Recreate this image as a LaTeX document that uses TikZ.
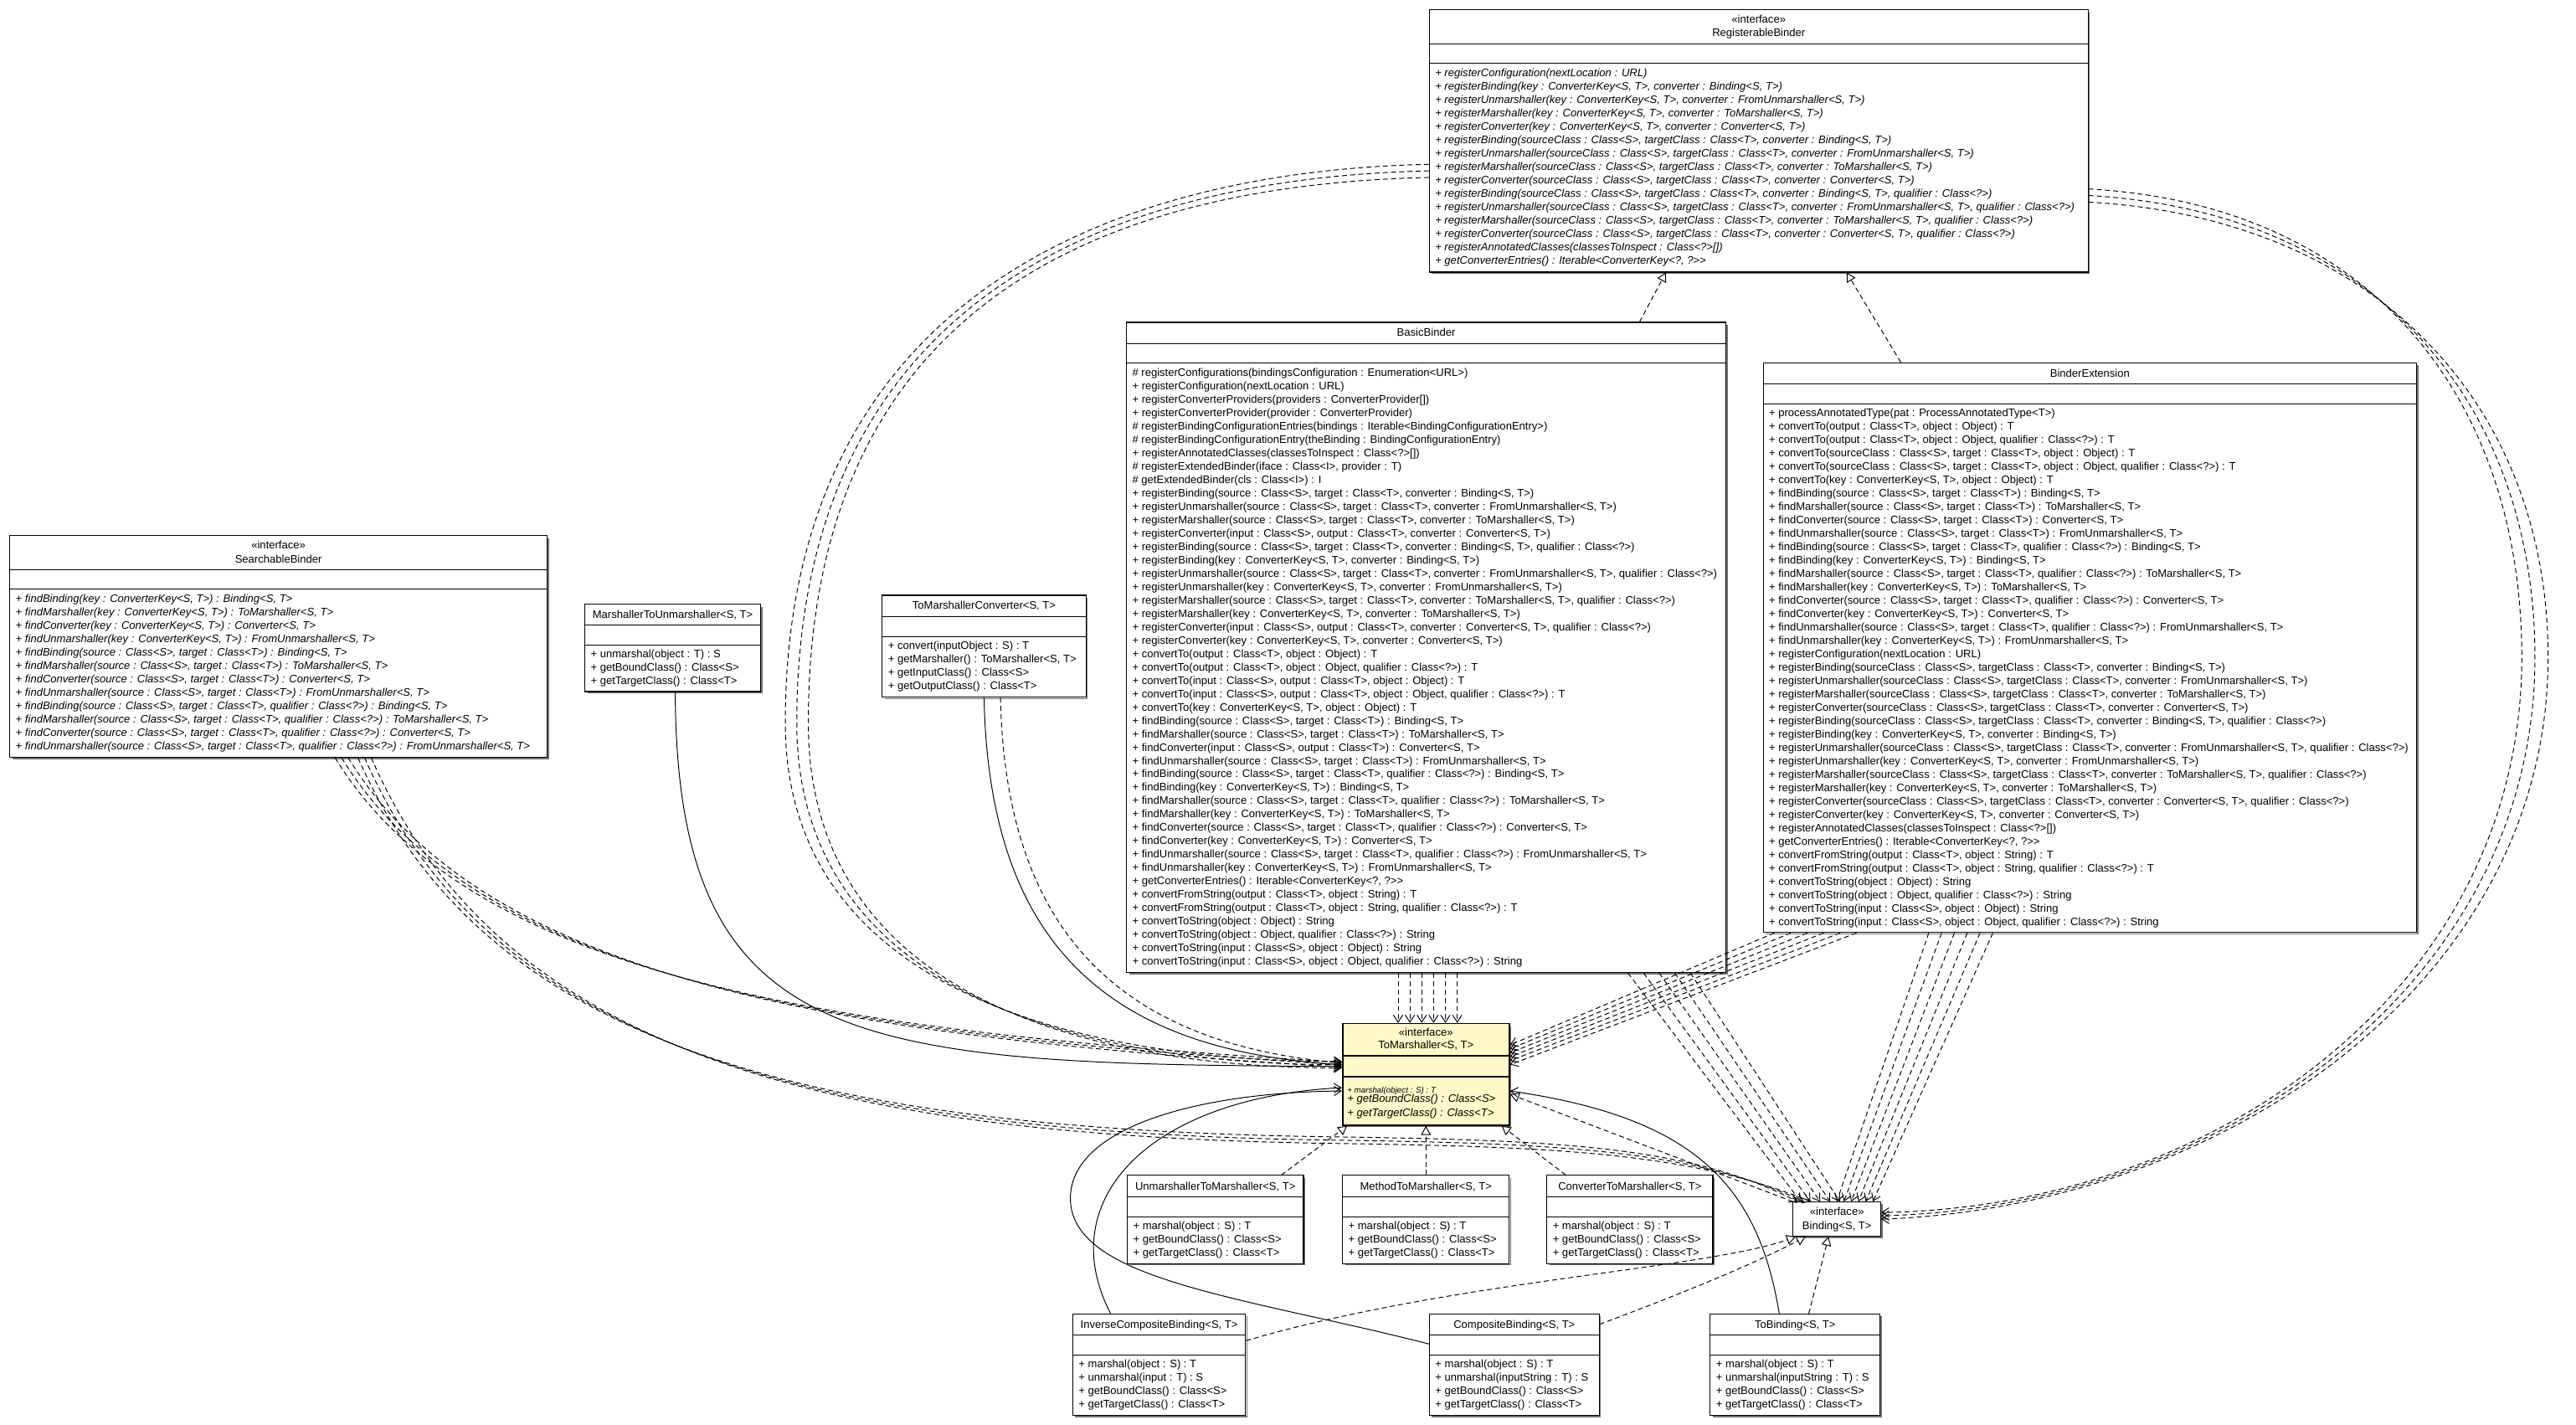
\documentclass[tikz,border=0pt]{standalone}
\usepackage{fontspec}
\usepackage{tikz}
\usetikzlibrary{arrows.meta, fit}
\newfontfamily\umlfont{Liberation Sans}
\definecolor{tmfill}{HTML}{FFF8C8}

% class box with its two compartment lines
\newcommand{\umlclass}[8][]{%
  \draw[shadow] ({#5+0.7},{#4+1.5}) -- ({#5+0.7},{#6+0.7}) -- ({#3+1.5},{#6+0.7});
  \node[box, #1, fit={(#3,#4) (#5,#6)}] (#2) {};
  \draw[#1] (#3,#7) -- (#5,#7);
  \draw[#1] (#3,#8) -- (#5,#8);
}
% one node per operation line
\newcommand{\umlops}[6]{%
  \foreach \opline [count=\k] in {#6}
    \node[#1] (#2-\k) at (#3,{#4+(\k-1)*#5}) {\opline};%
}

\begin{document}
\begin{tikzpicture}[x=1pt, y=-1pt, line width=0.5pt,
    box/.style={draw, fill=white, inner sep=0pt, line width=0.55pt},
    shadow/.style={draw=black!55, line width=0.7pt},
    tmbox/.style={fill=tmfill, line width=0.9pt},
    ttl/.style={font=\umlfont\fontsize{6.65}{8}\selectfont, inner sep=0pt, anchor=base},
    ops/.style={font=\umlfont\fontsize{6.65}{8}\selectfont, inner sep=0pt, anchor=base west},
    opsi/.style={ops, font=\umlfont\itshape\fontsize{6.65}{8}\selectfont},
    dep/.style={dash pattern=on 3pt off 2pt, -{Straight Barb[length=4.3pt,width=5.7pt]}},
    real/.style={dash pattern=on 3pt off 2pt, -{Triangle[length=5.5pt,width=6pt,fill=white]}},
    assoc/.style={-{Straight Barb[length=4.3pt,width=5.7pt]}}]
\fill[white] (0,0) rectangle (1568,867);
\useasboundingbox (0,0) rectangle (1568,867);

% RegisterableBinder
\umlclass{regb}{870}{6}{1271}{165.6}{26.8}{38.7}
\node[ttl] (regb-s) at (regb.north |- 0,13.8) {«interface»};
\node[ttl] (regb-t) at (regb.north |- 0,22.4) {RegisterableBinder};
\umlops{opsi}{regb}{873.3}{46.6}{8.16}{{+ registerConfiguration(nextLocation : URL)},
  {+ registerBinding(key : ConverterKey<S, T>, converter : Binding<S, T>)},
  {+ registerUnmarshaller(key : ConverterKey<S, T>, converter : FromUnmarshaller<S, T>)},
  {+ registerMarshaller(key : ConverterKey<S, T>, converter : ToMarshaller<S, T>)},
  {+ registerConverter(key : ConverterKey<S, T>, converter : Converter<S, T>)},
  {+ registerBinding(sourceClass : Class<S>, targetClass : Class<T>, converter : Binding<S, T>)},
  {+ registerUnmarshaller(sourceClass : Class<S>, targetClass : Class<T>, converter : FromUnmarshaller<S, T>)},
  {+ registerMarshaller(sourceClass : Class<S>, targetClass : Class<T>, converter : ToMarshaller<S, T>)},
  {+ registerConverter(sourceClass : Class<S>, targetClass : Class<T>, converter : Converter<S, T>)},
  {+ registerBinding(sourceClass : Class<S>, targetClass : Class<T>, converter : Binding<S, T>, qualifier : Class<?>)},
  {+ registerUnmarshaller(sourceClass : Class<S>, targetClass : Class<T>, converter : FromUnmarshaller<S, T>, qualifier : Class<?>)},
  {+ registerMarshaller(sourceClass : Class<S>, targetClass : Class<T>, converter : ToMarshaller<S, T>, qualifier : Class<?>)},
  {+ registerConverter(sourceClass : Class<S>, targetClass : Class<T>, converter : Converter<S, T>, qualifier : Class<?>)},
  {+ registerAnnotatedClasses(classesToInspect : Class<?>[])},
  {+ getConverterEntries() : Iterable<ConverterKey<?, ?>>}}

% SearchableBinder
\umlclass{srch}{6}{326}{333}{461}{346.8}{358.7}
\node[ttl] (srch-s) at (srch.north |- 0,334) {«interface»};
\node[ttl] (srch-t) at (srch.north |- 0,342.6) {SearchableBinder};
\umlops{opsi}{srch}{9.3}{366.6}{8.15}{{+ findBinding(key : ConverterKey<S, T>) : Binding<S, T>},
  {+ findMarshaller(key : ConverterKey<S, T>) : ToMarshaller<S, T>},
  {+ findConverter(key : ConverterKey<S, T>) : Converter<S, T>},
  {+ findUnmarshaller(key : ConverterKey<S, T>) : FromUnmarshaller<S, T>},
  {+ findBinding(source : Class<S>, target : Class<T>) : Binding<S, T>},
  {+ findMarshaller(source : Class<S>, target : Class<T>) : ToMarshaller<S, T>},
  {+ findConverter(source : Class<S>, target : Class<T>) : Converter<S, T>},
  {+ findUnmarshaller(source : Class<S>, target : Class<T>) : FromUnmarshaller<S, T>},
  {+ findBinding(source : Class<S>, target : Class<T>, qualifier : Class<?>) : Binding<S, T>},
  {+ findMarshaller(source : Class<S>, target : Class<T>, qualifier : Class<?>) : ToMarshaller<S, T>},
  {+ findConverter(source : Class<S>, target : Class<T>, qualifier : Class<?>) : Converter<S, T>},
  {+ findUnmarshaller(source : Class<S>, target : Class<T>, qualifier : Class<?>) : FromUnmarshaller<S, T>}}

% MarshallerToUnmarshaller and ToMarshallerConverter
\umlclass{mtu}{356}{367.7}{463}{420.9}{380.5}{392.7}
\node[ttl] (mtu-t) at (mtu.north |- 0,376.3) {MarshallerToUnmarshaller<S, T>};
\umlops{ops}{mtu}{359.3}{400.5}{8.1}{{+ unmarshal(object : T) : S},
  {+ getBoundClass() : Class<S>},{+ getTargetClass() : Class<T>}}
\umlclass{tmc}{537}{362.3}{661}{424.4}{375.1}{387.4}
\node[ttl] (tmc-t) at (tmc.north |- 0,370.9) {ToMarshallerConverter<S, T>};
\umlops{ops}{tmc}{540.3}{395.3}{8.15}{{+ convert(inputObject : S) : T},
  {+ getMarshaller() : ToMarshaller<S, T>},{+ getInputClass() : Class<S>},
  {+ getOutputClass() : Class<T>}}

% BasicBinder
\umlclass{bb}{685.7}{196.2}{1050.5}{592}{209.3}{221.1}
\node[ttl] (bb-t) at (bb.north |- 0,204.4) {BasicBinder};
\umlops{ops}{bb}{689}{229.2}{8.14}{{\# registerConfigurations(bindingsConfiguration : Enumeration<URL>)},
  {+ registerConfiguration(nextLocation : URL)},
  {+ registerConverterProviders(providers : ConverterProvider[])},
  {+ registerConverterProvider(provider : ConverterProvider)},
  {\# registerBindingConfigurationEntries(bindings : Iterable<BindingConfigurationEntry>)},
  {\# registerBindingConfigurationEntry(theBinding : BindingConfigurationEntry)},
  {+ registerAnnotatedClasses(classesToInspect : Class<?>[])},
  {\# registerExtendedBinder(iface : Class<I>, provider : T)},
  {\# getExtendedBinder(cls : Class<I>) : I},
  {+ registerBinding(source : Class<S>, target : Class<T>, converter : Binding<S, T>)},
  {+ registerUnmarshaller(source : Class<S>, target : Class<T>, converter : FromUnmarshaller<S, T>)},
  {+ registerMarshaller(source : Class<S>, target : Class<T>, converter : ToMarshaller<S, T>)},
  {+ registerConverter(input : Class<S>, output : Class<T>, converter : Converter<S, T>)},
  {+ registerBinding(source : Class<S>, target : Class<T>, converter : Binding<S, T>, qualifier : Class<?>)},
  {+ registerBinding(key : ConverterKey<S, T>, converter : Binding<S, T>)},
  {+ registerUnmarshaller(source : Class<S>, target : Class<T>, converter : FromUnmarshaller<S, T>, qualifier : Class<?>)},
  {+ registerUnmarshaller(key : ConverterKey<S, T>, converter : FromUnmarshaller<S, T>)},
  {+ registerMarshaller(source : Class<S>, target : Class<T>, converter : ToMarshaller<S, T>, qualifier : Class<?>)},
  {+ registerMarshaller(key : ConverterKey<S, T>, converter : ToMarshaller<S, T>)},
  {+ registerConverter(input : Class<S>, output : Class<T>, converter : Converter<S, T>, qualifier : Class<?>)},
  {+ registerConverter(key : ConverterKey<S, T>, converter : Converter<S, T>)},
  {+ convertTo(output : Class<T>, object : Object) : T},
  {+ convertTo(output : Class<T>, object : Object, qualifier : Class<?>) : T},
  {+ convertTo(input : Class<S>, output : Class<T>, object : Object) : T},
  {+ convertTo(input : Class<S>, output : Class<T>, object : Object, qualifier : Class<?>) : T},
  {+ convertTo(key : ConverterKey<S, T>, object : Object) : T},
  {+ findBinding(source : Class<S>, target : Class<T>) : Binding<S, T>},
  {+ findMarshaller(source : Class<S>, target : Class<T>) : ToMarshaller<S, T>},
  {+ findConverter(input : Class<S>, output : Class<T>) : Converter<S, T>},
  {+ findUnmarshaller(source : Class<S>, target : Class<T>) : FromUnmarshaller<S, T>},
  {+ findBinding(source : Class<S>, target : Class<T>, qualifier : Class<?>) : Binding<S, T>},
  {+ findBinding(key : ConverterKey<S, T>) : Binding<S, T>},
  {+ findMarshaller(source : Class<S>, target : Class<T>, qualifier : Class<?>) : ToMarshaller<S, T>},
  {+ findMarshaller(key : ConverterKey<S, T>) : ToMarshaller<S, T>},
  {+ findConverter(source : Class<S>, target : Class<T>, qualifier : Class<?>) : Converter<S, T>},
  {+ findConverter(key : ConverterKey<S, T>) : Converter<S, T>},
  {+ findUnmarshaller(source : Class<S>, target : Class<T>, qualifier : Class<?>) : FromUnmarshaller<S, T>},
  {+ findUnmarshaller(key : ConverterKey<S, T>) : FromUnmarshaller<S, T>},
  {+ getConverterEntries() : Iterable<ConverterKey<?, ?>>},
  {+ convertFromString(output : Class<T>, object : String) : T},
  {+ convertFromString(output : Class<T>, object : String, qualifier : Class<?>) : T},
  {+ convertToString(object : Object) : String},
  {+ convertToString(object : Object, qualifier : Class<?>) : String},
  {+ convertToString(input : Class<S>, object : Object) : String},
  {+ convertToString(input : Class<S>, object : Object, qualifier : Class<?>) : String}}

% BinderExtension
\umlclass{bext}{1073.2}{220.8}{1471}{567.6}{233.5}{245.8}
\node[ttl] (bext-t) at (bext.north |- 0,229.5) {BinderExtension};
\umlops{ops}{bext}{1076.5}{253.4}{8.15}{{+ processAnnotatedType(pat : ProcessAnnotatedType<T>)},
  {+ convertTo(output : Class<T>, object : Object) : T},
  {+ convertTo(output : Class<T>, object : Object, qualifier : Class<?>) : T},
  {+ convertTo(sourceClass : Class<S>, target : Class<T>, object : Object) : T},
  {+ convertTo(sourceClass : Class<S>, target : Class<T>, object : Object, qualifier : Class<?>) : T},
  {+ convertTo(key : ConverterKey<S, T>, object : Object) : T},
  {+ findBinding(source : Class<S>, target : Class<T>) : Binding<S, T>},
  {+ findMarshaller(source : Class<S>, target : Class<T>) : ToMarshaller<S, T>},
  {+ findConverter(source : Class<S>, target : Class<T>) : Converter<S, T>},
  {+ findUnmarshaller(source : Class<S>, target : Class<T>) : FromUnmarshaller<S, T>},
  {+ findBinding(source : Class<S>, target : Class<T>, qualifier : Class<?>) : Binding<S, T>},
  {+ findBinding(key : ConverterKey<S, T>) : Binding<S, T>},
  {+ findMarshaller(source : Class<S>, target : Class<T>, qualifier : Class<?>) : ToMarshaller<S, T>},
  {+ findMarshaller(key : ConverterKey<S, T>) : ToMarshaller<S, T>},
  {+ findConverter(source : Class<S>, target : Class<T>, qualifier : Class<?>) : Converter<S, T>},
  {+ findConverter(key : ConverterKey<S, T>) : Converter<S, T>},
  {+ findUnmarshaller(source : Class<S>, target : Class<T>, qualifier : Class<?>) : FromUnmarshaller<S, T>},
  {+ findUnmarshaller(key : ConverterKey<S, T>) : FromUnmarshaller<S, T>},
  {+ registerConfiguration(nextLocation : URL)},
  {+ registerBinding(sourceClass : Class<S>, targetClass : Class<T>, converter : Binding<S, T>)},
  {+ registerUnmarshaller(sourceClass : Class<S>, targetClass : Class<T>, converter : FromUnmarshaller<S, T>)},
  {+ registerMarshaller(sourceClass : Class<S>, targetClass : Class<T>, converter : ToMarshaller<S, T>)},
  {+ registerConverter(sourceClass : Class<S>, targetClass : Class<T>, converter : Converter<S, T>)},
  {+ registerBinding(sourceClass : Class<S>, targetClass : Class<T>, converter : Binding<S, T>, qualifier : Class<?>)},
  {+ registerBinding(key : ConverterKey<S, T>, converter : Binding<S, T>)},
  {+ registerUnmarshaller(sourceClass : Class<S>, targetClass : Class<T>, converter : FromUnmarshaller<S, T>, qualifier : Class<?>)},
  {+ registerUnmarshaller(key : ConverterKey<S, T>, converter : FromUnmarshaller<S, T>)},
  {+ registerMarshaller(sourceClass : Class<S>, targetClass : Class<T>, converter : ToMarshaller<S, T>, qualifier : Class<?>)},
  {+ registerMarshaller(key : ConverterKey<S, T>, converter : ToMarshaller<S, T>)},
  {+ registerConverter(sourceClass : Class<S>, targetClass : Class<T>, converter : Converter<S, T>, qualifier : Class<?>)},
  {+ registerConverter(key : ConverterKey<S, T>, converter : Converter<S, T>)},
  {+ registerAnnotatedClasses(classesToInspect : Class<?>[])},
  {+ getConverterEntries() : Iterable<ConverterKey<?, ?>>},
  {+ convertFromString(output : Class<T>, object : String) : T},
  {+ convertFromString(output : Class<T>, object : String, qualifier : Class<?>) : T},
  {+ convertToString(object : Object) : String},
  {+ convertToString(object : Object, qualifier : Class<?>) : String},
  {+ convertToString(input : Class<S>, object : Object) : String},
  {+ convertToString(input : Class<S>, object : Object, qualifier : Class<?>) : String}}

% ToMarshaller (highlighted)
\umlclass[tmbox]{tom}{817.2}{623}{918.7}{684.8}{642.7}{655.4}
\node[ttl] (tom-s) at (tom.north |- 0,630.8) {«interface»};
\node[ttl] (tom-t) at (tom.north |- 0,638.4) {ToMarshaller<S, T>};
\node[opsi, font=\umlfont\itshape\fontsize{5}{6}\selectfont] (tom-1) at (819.8,665.4) {+ marshal(object : S) : T};
\node[opsi] (tom-2) at (819.8,671.1) {+ getBoundClass() : Class<S>};
\node[opsi] (tom-3) at (819.8,679.4) {+ getTargetClass() : Class<T>};

% Binding
\draw[shadow] (1145.5,733) -- (1145.5,753.1) -- (1093,753.1);
\node[box, fit={(1091.5,731.6) (1144.8,752.4)}] (bnd) {};
\node[ttl] (bnd-s) at (bnd.north |- 0,739.9) {«interface»};
\node[ttl] (bnd-t) at (bnd.north |- 0,748.1) {Binding<S, T>};

% implementations of ToMarshaller
\umlclass{utm}{686.2}{715.4}{793.4}{769.1}{728.3}{740.6}
\node[ttl] (utm-t) at (utm.north |- 0,724.2) {UnmarshallerToMarshaller<S, T>};
\umlops{ops}{utm}{689.5}{748.4}{8.1}{{+ marshal(object : S) : T},{+ getBoundClass() : Class<S>},{+ getTargetClass() : Class<T>}}
\umlclass{mtm}{817.2}{715.4}{918.7}{769.1}{728.3}{740.6}
\node[ttl] (mtm-t) at (mtm.north |- 0,724.2) {MethodToMarshaller<S, T>};
\umlops{ops}{mtm}{820.5}{748.4}{8.1}{{+ marshal(object : S) : T},{+ getBoundClass() : Class<S>},{+ getTargetClass() : Class<T>}}
\umlclass{ctm}{941.6}{715.4}{1042.6}{769.1}{728.3}{740.6}
\node[ttl] (ctm-t) at (ctm.north |- 0,724.2) {ConverterToMarshaller<S, T>};
\umlops{ops}{ctm}{944.9}{748.4}{8.1}{{+ marshal(object : S) : T},{+ getBoundClass() : Class<S>},{+ getTargetClass() : Class<T>}}

% implementations of Binding
\umlclass{icb}{653}{799.7}{758.2}{861.5}{812.4}{824.6}
\node[ttl] (icb-t) at (icb.north |- 0,808.2) {InverseCompositeBinding<S, T>};
\umlops{ops}{icb}{656.3}{832.4}{8.1}{{+ marshal(object : S) : T},{+ unmarshal(input : T) : S},
  {+ getBoundClass() : Class<S>},{+ getTargetClass() : Class<T>}}
\umlclass{cb}{870.1}{799.7}{973.4}{861.5}{812.4}{824.6}
\node[ttl] (cb-t) at (cb.north |- 0,808.2) {CompositeBinding<S, T>};
\umlops{ops}{cb}{873.4}{832.4}{8.1}{{+ marshal(object : S) : T},{+ unmarshal(inputString : T) : S},
  {+ getBoundClass() : Class<S>},{+ getTargetClass() : Class<T>}}
\umlclass{tob}{1041}{799.7}{1144.4}{861.5}{812.4}{824.6}
\node[ttl] (tob-t) at (tob.north |- 0,808.2) {ToBinding<S, T>};
\umlops{ops}{tob}{1044.3}{832.4}{8.1}{{+ marshal(object : S) : T},{+ unmarshal(inputString : T) : S},
  {+ getBoundClass() : Class<S>},{+ getTargetClass() : Class<T>}}

% realizations
\draw[real] (bb.north -| 998,0) -- (regb.south -| 1014,0);
\draw[real] (bext.north -| 1157,0) -- (regb.south -| 1124,0);
\draw[real] (utm.north -| 780,0) -- (tom.south -| 820,0);
\draw[real] (mtm.north) -- (tom.south);
\draw[real] (ctm.north -| 953,0) -- (tom.south -| 914,0);
\draw[real] (icb.east |- 0,816) .. controls (880,780) and (1040,772) .. (bnd.south -| 1093,0);
\draw[real] (cb.east |- 0,806) .. controls (1030,785) and (1070,768) .. (bnd.south -| 1099,0);
\draw[real] (tob.north -| 1101,0) -- (bnd.south -| 1113,0);
\draw[real] (bnd.north west) -- (tom.east |- 0,666);

% navigable associations
\draw[assoc] (mtu.south -| 411,0) .. controls (412,640) and (520,648) .. (tom.west |- 0,649);
\draw[assoc] (tmc.south -| 599,0) .. controls (602,580) and (680,640) .. (tom.west |- 0,648);
\draw[dep] (tmc.south -| 609,0) .. controls (612,575) and (690,636) .. (tom.west |- 0,647);
\draw[assoc] (icb.north -| 676,0) .. controls (640,730) and (700,668) .. (tom.west |- 0,662);
\draw[assoc] (cb.west |- 0,818) .. controls (760,790) and (660,780) .. (652,735)
  .. controls (645,690) and (720,665) .. (tom.west |- 0,664);
\draw[assoc] (tob.north -| 1083,0) .. controls (1070,720) and (1030,680) .. (tom.east |- 0,664);

% dependencies
\foreach \x in {851,858.2,865.4,872.6,879.8,887}
  \draw[dep] (bb.south -| \x,0) -- (tom.north -| \x,0);
\foreach \a/\b in {991/1096,1000.5/1102,1010/1108,1019.5/1114,1029/1120}
  \draw[dep] (bb.south -| \a,0) -- (bnd.north -| \b,0);
\foreach \a/\b in {1080/636,1090/638.4,1100/640.8,1110/643.2,1120/645.6,1130/648}
  \draw[dep] (bext.south -| \a,0) -- (tom.east |- 0,\b);
\foreach \a/\b in {1174/1118,1181.8/1122.4,1189.6/1126.8,1197.4/1131.2,1205.2/1135.6,1213/1140}
  \draw[dep] (bext.south -| \a,0) -- (bnd.north -| \b,0);
\foreach \a/\b/\c in {115/1535/738,119/1543/740,123/1551/742}
  \draw[dep] (regb.east |- 0,\a) .. controls (1450,{\a+10}) and (\b,250) .. (\b,400)
    .. controls (\b,600) and (1350,735) .. (bnd.east |- 0,\c);
\foreach \a/\b/\c in {100/478/646,104/485/648,108/492/650}
  \draw[dep] (regb.west |- 0,\a) .. controls (650,{\a+5}) and (\b,200) .. (\b,440)
    .. controls (\b,600) and (650,\c) .. (tom.west |- 0,\c);
\foreach \a/\c in {204/646.5,208/648,212/649.5}
  \draw[dep] (srch.south -| \a,0) .. controls ({\a+85},600) and (520,{\c-18}) .. (tom.west |- 0,\c);
\foreach \a/\d/\c in {218/692/1094,222/694/1098,226/696/1102}
  \draw[dep] (srch.south -| \a,0) .. controls ({\a+78},640) and (500,{\d-4}) .. (817,\d)
    .. controls (950,{\d+2}) and (1030,{\d+6}) .. (bnd.north -| \c,0);
\end{tikzpicture}
\end{document}
